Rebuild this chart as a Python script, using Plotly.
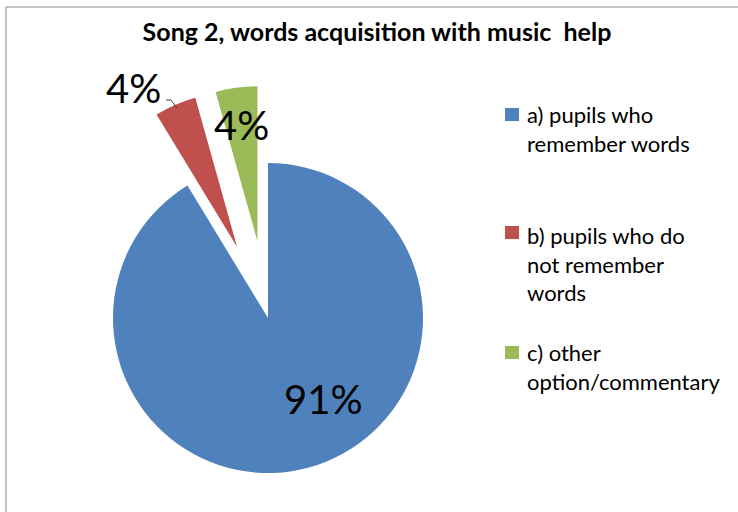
import math
import plotly.graph_objects as go

# ---- data ----
title = "Song 2, words acquisition with music&nbsp; help"
labels = ["a) pupils who<br>remember words",
          "b) pupils who do<br>not remember<br>words",
          "c) other<br>option/commentary"]
values = [91.3, 4.35, 4.35]
colors = ["#4F81BD", "#C0504D", "#9BBB59"]
pulls = [0.0, 0.5, 0.5]

W, H = 738, 512
CX, CY, R = 268, 318, 155   # pie center and radius in px

fig = go.Figure()
total = sum(values)
cum = 0.0
for i, v in enumerate(values):
    start = cum / total * 360
    cum += v
    end = cum / total * 360
    mid = math.radians((start + end) / 2)
    cx = CX + pulls[i] * R * math.sin(mid)
    cy = CY - pulls[i] * R * math.cos(mid)
    cols = ["rgba(0,0,0,0)"] * len(values)
    cols[i] = colors[i]
    fig.add_trace(go.Pie(
        values=values, labels=[l.replace("<br>", " ") for l in labels],
        marker=dict(colors=cols, line=dict(width=0)),
        sort=False, direction="clockwise", rotation=0,
        textinfo="none", hoverinfo="skip", showlegend=False,
        domain=dict(x=[(cx - R) / W, (cx + R) / W],
                    y=[(H - cy - R) / H, (H - cy + R) / H]),
    ))

pct = [f"{round(v / total * 100)}%" for v in values]
label_pos = [(323, 399), (133, 88), (241, 125)]
annotations = []
for (x, y), t in zip(label_pos, pct):
    annotations.append(dict(x=x / W, y=1 - y / H, xref="paper", yref="paper",
                            text=t, showarrow=False, xanchor="center", yanchor="middle",
                            font=dict(family="Lato", size=40, color="#000")))

# legend (manual)
leg_y = [(115, 129), (233, 264), (353, 367)]  # (swatch center, text block center)
shapes = []
for (sy, ty), lab, c in zip(leg_y, labels, colors):
    shapes.append(dict(type="rect", xref="paper", yref="paper",
                       x0=505 / W, x1=519 / W, y0=1 - (sy - 7) / H, y1=1 - (sy + 6) / H,
                       fillcolor=c, line=dict(width=0)))
    annotations.append(dict(x=525 / W, y=1 - ty / H, xref="paper", yref="paper",
                            text=lab, showarrow=False, xanchor="left", yanchor="middle",
                            align="left",
                            font=dict(family="Lato", size=22, color="#000")))

# leader line for red label
shapes.append(dict(type="path", xref="paper", yref="paper",
                   path=f"M {166/W},{1-100/H} L {171/W},{1-100/H} L {177/W},{1-108/H}",
                   line=dict(color="#404040", width=1)))
# chart border
shapes.append(dict(type="rect", xref="paper", yref="paper",
                   x0=6 / W, x1=1.05, y0=1 - 7 / H, y1=-0.05,
                   line=dict(color="#868686", width=1), fillcolor="rgba(0,0,0,0)"))

fig.update_layout(
    width=W, height=H,
    margin=dict(l=0, r=0, t=0, b=0),
    paper_bgcolor="white", plot_bgcolor="white",
    title=dict(text=f"<b>{title}</b>", x=377 / W, xanchor="center",
               y=1 - 32 / H, yanchor="middle",
               font=dict(family="Lato", size=25, color="#000")),
    annotations=annotations, shapes=shapes,
)

fig.write_html("out.html", config={"displayModeBar": False},
               post_script="document.body.style.margin='0';")
